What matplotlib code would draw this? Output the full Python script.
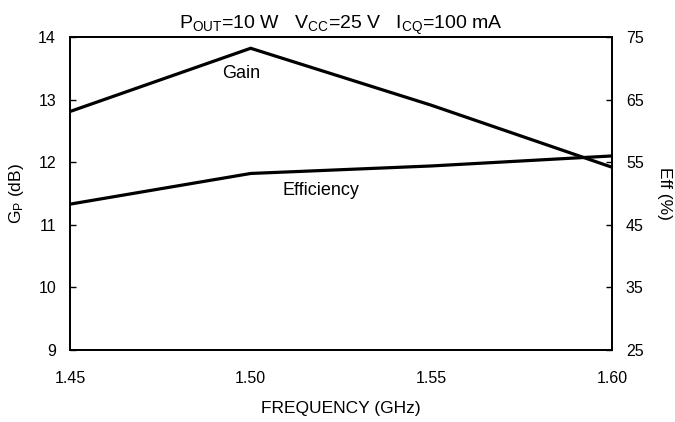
import matplotlib
matplotlib.use("Agg")
import matplotlib.pyplot as plt

plt.rcParams['font.family'] = ['Liberation Sans', 'DejaVu Sans']
plt.rcParams['mathtext.fontset'] = 'custom'
plt.rcParams['mathtext.rm'] = 'Liberation Sans'
plt.rcParams['mathtext.it'] = 'Liberation Sans'

freq = [1.45, 1.50, 1.55, 1.60]
gain_db = [12.81, 13.82, 12.91, 11.92]
eff_pct = [48.3, 53.2, 54.4, 56.0]
xticks = [1.45, 1.50, 1.55, 1.60]
xticklabels = ["1.45", "1.50", "1.55", "1.60"]
gticks = [9, 10, 11, 12, 13, 14]
eticks = [25, 35, 45, 55, 65, 75]

fig = plt.figure(figsize=(6.75, 4.22), dpi=100)
ax = fig.add_axes([70/675, 1-350/422, (612-70)/675, (350-37)/422])
ax2 = ax.twinx()

ax.plot(freq, gain_db, color='black', lw=2.3, solid_joinstyle='miter')
ax2.plot(freq, eff_pct, color='black', lw=2.3, solid_joinstyle='miter')

ax.set_xlim(1.45, 1.60)
ax.set_ylim(9, 14)
ax2.set_ylim(25, 75)
ax.set_xticks(xticks)
ax.set_xticklabels(xticklabels)
ax.set_yticks(gticks)
ax2.set_yticks(eticks)

ax.tick_params(axis='x', length=0, pad=15, labelsize=11.5)
ax.tick_params(axis='y', direction='in', length=4, width=1, pad=10, labelsize=11.5)
ax2.tick_params(axis='y', direction='in', length=4, width=1, pad=10, labelsize=11.5)

for a in (ax, ax2):
    for s in a.spines.values():
        s.set_linewidth(1.3)

ax.set_xlabel("FREQUENCY (GHz)", fontsize=12.5, labelpad=11)
ax.set_ylabel("G$_\\mathrm{P}$ (dB)", fontsize=12.5, labelpad=9)
ax2.set_ylabel("Eff (%)", fontsize=12.5, rotation=270, labelpad=20)

ax.set_title("P$_\\mathrm{OUT}$=10 W   V$_\\mathrm{CC}$=25 V   I$_\\mathrm{CQ}$=100 mA",
             fontsize=14, pad=6)

ax.text(1.4975, 13.42, "Gain", fontsize=13, ha='center', va='center')
ax.text(1.5195, 11.55, "Efficiency", fontsize=13, ha='center', va='center')

fig.savefig("out.png", dpi=100)
